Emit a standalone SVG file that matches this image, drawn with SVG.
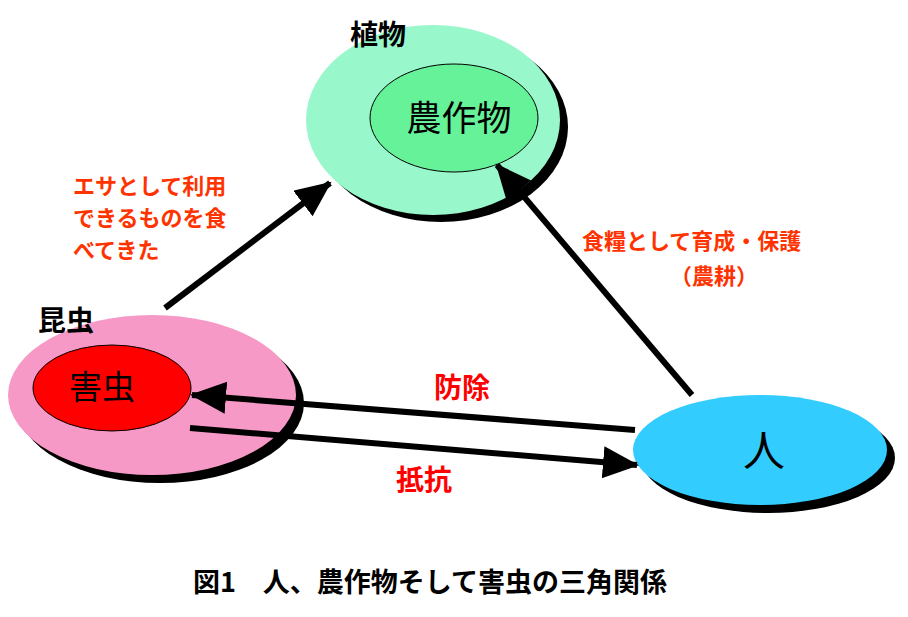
<svg xmlns="http://www.w3.org/2000/svg" width="908" height="617" viewBox="0 0 908 617">
<style>
.sh{fill:#000}
.c{stroke:#000;stroke-width:1}
.ln{stroke:#000;stroke-width:6;fill:none;marker-end:url(#a)}
text{font-family:"Noto Sans CJK JP",sans-serif}
.lb{font-size:28px;font-weight:bold;fill:#000}
.rd{font-size:22px;font-weight:bold;fill:#ff3300}
.rr{font-size:28px;font-weight:bold;fill:#ff0000}
</style>
<defs><marker id="a" markerUnits="userSpaceOnUse" markerWidth="40" markerHeight="40" refX="34" refY="16" orient="auto"><path d="M0,0 L36,16 L0,32 Z" fill="#000"/></marker></defs>
<rect width="908" height="617" fill="#fff"/>
<g id="plant">
<ellipse class="sh" cx="441" cy="127" rx="127" ry="95"/>
<ellipse cx="433" cy="120" rx="127" ry="95" fill="#99f7cc"/>
<ellipse class="c" cx="454" cy="118" rx="84" ry="54" fill="#66f299"/>
<text x="378" y="45" class="lb" text-anchor="middle">植物</text>
<text x="459" y="131" font-size="35" text-anchor="middle">農作物</text>
</g>
<g id="insect">
<ellipse class="sh" cx="160" cy="403" rx="144" ry="80"/>
<ellipse cx="152" cy="395" rx="144" ry="80" fill="#f799c6"/>
<ellipse class="c" cx="112" cy="388" rx="79" ry="43" fill="#ff0000"/>
<text x="66" y="331" class="lb" text-anchor="middle">昆虫</text>
<text x="102" y="399" font-size="33" text-anchor="middle">害虫</text>
</g>
<g id="human">
<ellipse class="sh" cx="768" cy="458" rx="127" ry="55"/>
<ellipse cx="760" cy="450" rx="127" ry="55" fill="#33ccff"/>
<text x="764" y="466" font-size="42" text-anchor="middle">人</text>
</g>
<g id="connectors">
<line class="ln" x1="165" y1="308" x2="330" y2="183"/>
<line class="ln" x1="692" y1="395" x2="497" y2="165"/>
<line class="ln" x1="635" y1="430" x2="192" y2="395"/>
<line class="ln" x1="190" y1="428" x2="637" y2="465"/>
</g>
<g id="labels">
<text class="rd" x="73" y="194">エサとして利用</text>
<text class="rd" x="73" y="226">できるものを食</text>
<text class="rd" x="73" y="258">べてきた</text>
<text class="rd" x="582" y="249">食糧として育成・保護</text>
<text class="rd" x="670" y="284">（農耕）</text>
<text class="rr" x="462" y="398" text-anchor="middle">防除</text>
<text class="rr" x="424" y="490" text-anchor="middle">抵抗</text>
<text x="430" y="592" font-size="27" font-weight="bold" text-anchor="middle">図1　人、農作物そして害虫の三角関係</text>
</g>
</svg>
